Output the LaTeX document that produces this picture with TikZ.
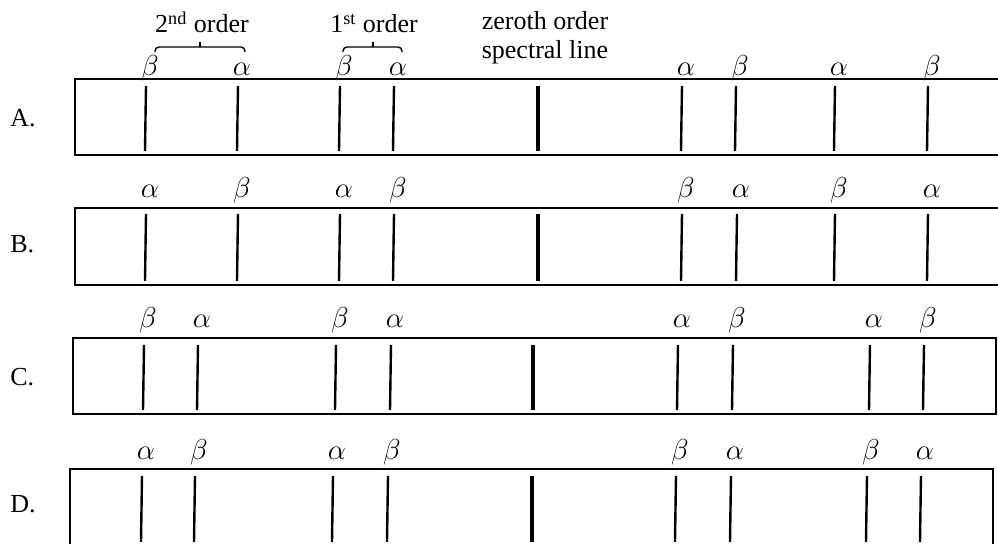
\documentclass[tikz,border=0pt]{standalone}
\usepackage{fontspec}
\setmainfont{Liberation Serif}
\tikzset{
  panel/.style={line width=0.9pt},
  specline/.style={line width=1.2pt},
  zeroline/.style={line width=2.2pt},
  bracket/.style={line width=0.7pt, rounded corners=2pt},
  greek/.style={anchor=base, inner sep=0pt, font=\fontsize{14.5}{14.5}\selectfont},
  ordtext/.style={anchor=base, inner sep=0pt, align=center},
  rowname/.style={anchor=west, inner sep=0pt}
}
\begin{document}
\begin{tikzpicture}[x=0.5pt, y=-0.5pt, font=\fontsize{13}{13}\selectfont]
    \useasboundingbox (0,0) rectangle (998,544);
    % Rotulos de los ordenes sobre el panel A.
    \node[ordtext] (second) at (202,33) {2\textsuperscript{nd} order};
    \node[ordtext] (first) at (374,33) {1\textsuperscript{st} order};
    \node[ordtext] (zerotha) at (545,30) {zeroth order};
    \node[ordtext] (zerothb) at (545,59) {spectral line};
    \draw[bracket] (155,52) -- (155,47) -- (245,47) -- (245,52);
    \draw[line width=0.7pt] (200,47) -- (200,42);
    \draw[bracket] (343,52) -- (343,47) -- (402,47) -- (402,52);
    \draw[line width=0.7pt] (373,47) -- (373,42);
    % Panel A
    \node[rowname] (rowA) at (10,118) {A.};
    \draw[panel] (998,79) -- (75,79) -- (75,155) -- (998,155);
    \foreach \x/\g [count=\i] in {146/\beta, 238/\alpha, 340/\beta, 394/\alpha,
        682/\alpha, 736/\beta, 835/\alpha, 928/\beta} {
      \draw[specline] (\x,86) -- (\x-1,151);
      \node[greek] (a\i) at (\x+4,76) {$\g$};
    }
    \draw[zeroline] (538,86) -- (538,151);
    % Panel B
    \node[rowname] (rowB) at (10,244) {B.};
    \draw[panel] (998,208) -- (75,208) -- (75,285) -- (998,285);
    \foreach \x/\g [count=\i] in {146/\alpha, 238/\beta, 340/\alpha, 394/\beta,
        682/\beta, 737/\alpha, 835/\beta, 928/\alpha} {
      \draw[specline] (\x,214) -- (\x-1,281);
      \node[greek] (b\i) at (\x+4,198) {$\g$};
    }
    \draw[zeroline] (538,214) -- (538,281);
    % Panel C
    \node[rowname] (rowC) at (10,377) {C.};
    \draw[panel] (73,338) rectangle (996,414);
    \foreach \x/\g [count=\i] in {144/\beta, 198/\alpha, 336/\beta, 391/\alpha,
        678/\alpha, 733/\beta, 870/\alpha, 924/\beta} {
      \draw[specline] (\x,345) -- (\x-1,410);
      \node[greek] (c\i) at (\x+4,328) {$\g$};
    }
    \draw[zeroline] (533,345) -- (533,410);
    % Panel D
    \node[rowname] (rowD) at (10,504) {D.};
    \draw[panel] (70,544) -- (70,469) -- (993,469) -- (993,544);
    \foreach \x/\g [count=\i] in {142/\alpha, 195/\beta, 333/\alpha, 388/\beta,
        676/\beta, 731/\alpha, 867/\beta, 921/\alpha} {
      \draw[specline] (\x,476) -- (\x-1,542);
      \node[greek] (d\i) at (\x+4,460) {$\g$};
    }
    \draw[zeroline] (532,476) -- (532,542);
\end{tikzpicture}
\end{document}
